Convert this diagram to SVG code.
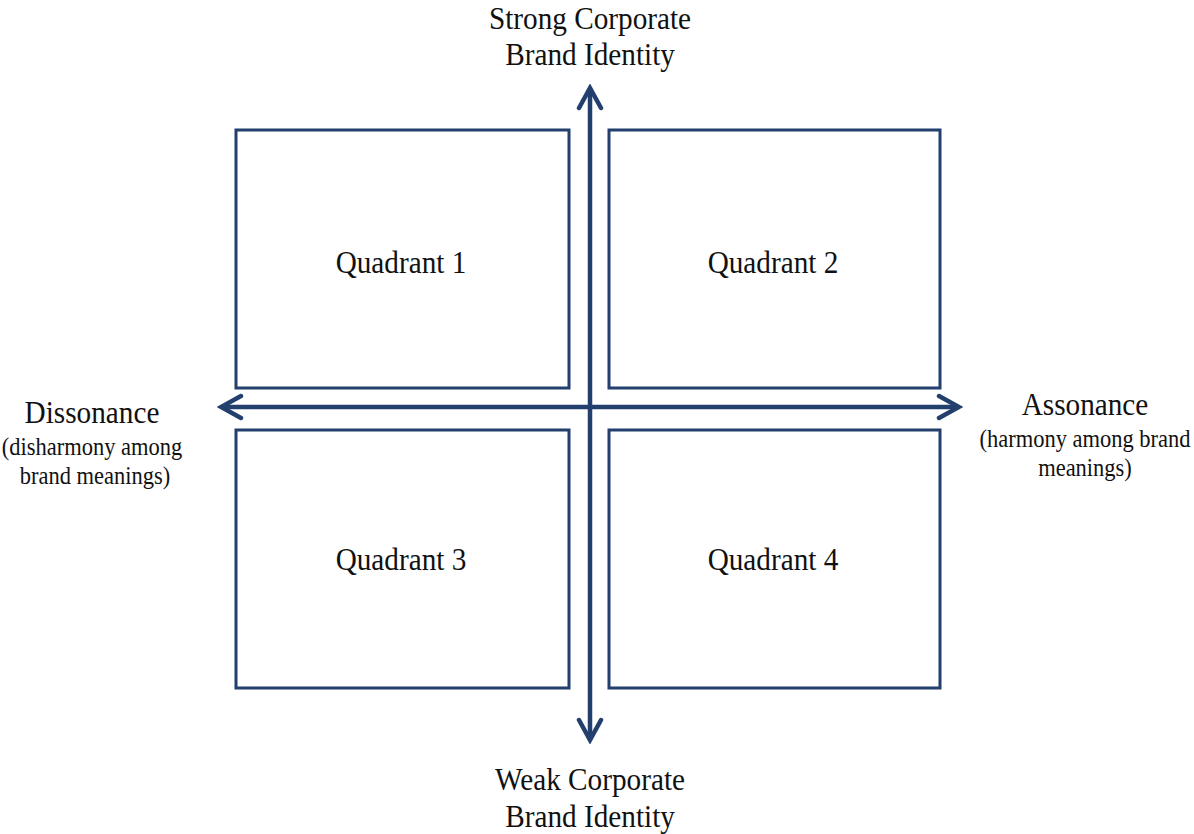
<svg xmlns="http://www.w3.org/2000/svg" width="1194" height="834" viewBox="0 0 1194 834">
  <style>
    .quad { fill: #ffffff; stroke: #233f6d; stroke-width: 3; }
    .axis { fill: none; stroke: #233f6d; stroke-width: 4.5; }
    .lbl { font-family: "Liberation Serif", "Times New Roman", serif; fill: #111111; text-anchor: middle;
           transform-box: fill-box; transform-origin: center; transform: scaleX(0.9); }
    .big { font-size: 32.5px; }
    .small { font-size: 25px; }
  </style>
  <defs>
    <marker id="chev" markerUnits="userSpaceOnUse" viewBox="-24 -14 28 28" refX="0" refY="0" markerWidth="28" markerHeight="28" orient="auto">
      <path d="M-20,-11 L0,0 L-20,11" fill="none" stroke="#233f6d" stroke-width="4.5" stroke-linecap="round" stroke-linejoin="miter"/>
    </marker>
  </defs>

  <rect width="1194" height="834" fill="#ffffff"/>

  <g id="quadrant-1">
    <rect class="quad" x="236" y="130" width="333" height="258"/>
    <text class="lbl big" x="401" y="273">Quadrant 1</text>
  </g>
  <g id="quadrant-2">
    <rect class="quad" x="609" y="130" width="331" height="258"/>
    <text class="lbl big" x="773" y="273">Quadrant 2</text>
  </g>
  <g id="quadrant-3">
    <rect class="quad" x="236" y="430" width="333" height="258"/>
    <text class="lbl big" x="401" y="570">Quadrant 3</text>
  </g>
  <g id="quadrant-4">
    <rect class="quad" x="609" y="430" width="331" height="258"/>
    <text class="lbl big" x="773" y="570">Quadrant 4</text>
  </g>

  <g id="axes">
    <line class="axis" x1="590" y1="407" x2="590" y2="88" marker-end="url(#chev)"/>
    <line class="axis" x1="590" y1="407" x2="590" y2="740" marker-end="url(#chev)"/>
    <line class="axis" x1="590" y1="407" x2="221" y2="407" marker-end="url(#chev)"/>
    <line class="axis" x1="590" y1="407" x2="959" y2="407" marker-end="url(#chev)"/>
  </g>

  <g id="label-top">
    <text class="lbl big" x="590" y="29">Strong Corporate</text>
    <text class="lbl big" x="590" y="65">Brand Identity</text>
  </g>
  <g id="label-bottom">
    <text class="lbl big" x="590" y="790">Weak Corporate</text>
    <text class="lbl big" x="590" y="827">Brand Identity</text>
  </g>
  <g id="label-left">
    <text class="lbl big" x="92" y="423">Dissonance</text>
    <text class="lbl small" x="92" y="455">(disharmony among</text>
    <text class="lbl small" x="95" y="484">brand meanings)</text>
  </g>
  <g id="label-right">
    <text class="lbl big" x="1085" y="415">Assonance</text>
    <text class="lbl small" x="1085" y="447">(harmony among brand</text>
    <text class="lbl small" x="1085" y="476">meanings)</text>
  </g>
</svg>
